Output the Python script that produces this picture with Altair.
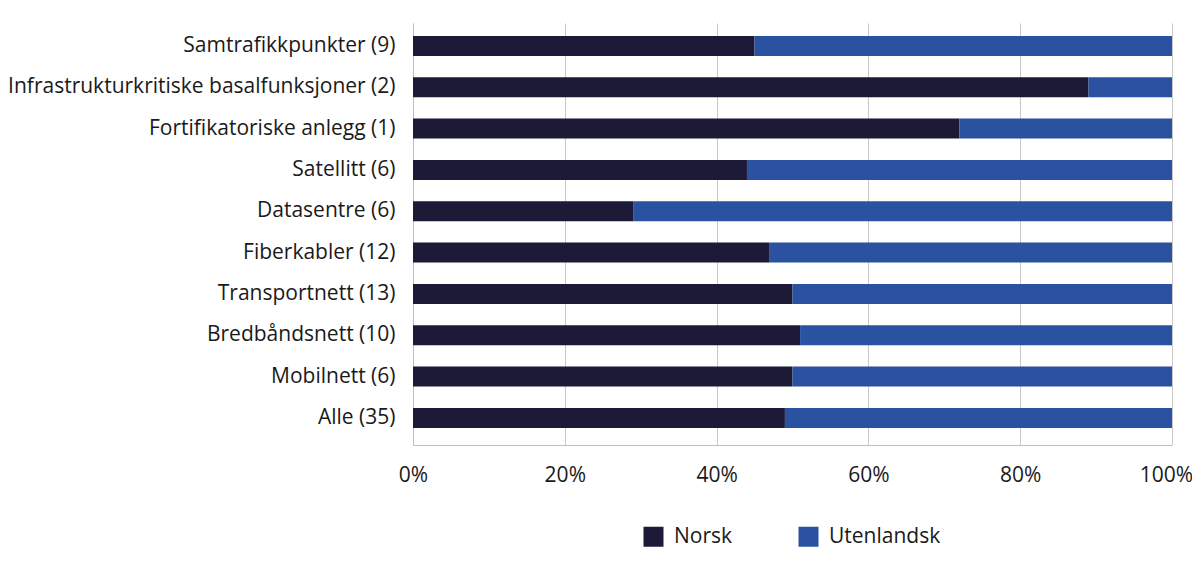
import altair as alt
import pandas as pd

categories = [
    "Samtrafikkpunkter (9)",
    "Infrastrukturkritiske basalfunksjoner (2)",
    "Fortifikatoriske anlegg (1)",
    "Satellitt (6)",
    "Datasentre (6)",
    "Fiberkabler (12)",
    "Transportnett (13)",
    "Bredbåndsnett (10)",
    "Mobilnett (6)",
    "Alle (35)",
]
norsk = [0.45, 0.89, 0.72, 0.44, 0.29, 0.47, 0.50, 0.51, 0.50, 0.49]
utenlandsk = [0.55, 0.11, 0.28, 0.56, 0.71, 0.53, 0.50, 0.49, 0.50, 0.51]
series = ["Norsk", "Utenlandsk"]
colors = ["#1c1a36", "#2a52a0"]

rows = []
for c, n, u in zip(categories, norsk, utenlandsk):
    rows.append({"kategori": c, "serie": "Norsk", "andel": n, "rekke": 0})
    rows.append({"kategori": c, "serie": "Utenlandsk", "andel": u, "rekke": 1})
df = pd.DataFrame(rows)

FONT = "Open Sans"
FS = 21

chart = (
    alt.Chart(df)
    .mark_bar()
    .encode(
        y=alt.Y(
            "kategori:N",
            sort=categories,
            title=None,
            scale=alt.Scale(paddingInner=0.516, paddingOuter=0.363, align=0.43),
            axis=alt.Axis(
                ticks=False,
                labelFontSize=FS,
                labelFont=FONT,
                labelColor="#1a1a1a",
                labelPadding=18,
                labelLimit=500,
                domainColor="#bfbfbf",
                grid=False,
            ),
        ),
        x=alt.X(
            "andel:Q",
            stack="zero",
            title=None,
            scale=alt.Scale(domain=[0, 1], nice=False),
            axis=alt.Axis(
                values=[0, 0.2, 0.4, 0.6, 0.8, 1.0],
                format=".0%",
                ticks=False,
                labelFontSize=FS,
                labelFont=FONT,
                labelColor="#1a1a1a",
                labelPadding=19,
                labelOffset=alt.condition("datum.value >= 1", alt.value(-6), alt.value(0)),
                domainColor="#bfbfbf",
                gridColor="#c8c8c8",
                labelFlush=False,
            ),
        ),
        color=alt.Color(
            "serie:N",
            scale=alt.Scale(domain=series, range=colors),
            legend=alt.Legend(
                title=None,
                orient="none",
                legendX=230,
                legendY=503,
                direction="horizontal",
                symbolType="square",
                symbolSize=400,
                symbolStrokeWidth=0,
                labelFontSize=FS,
                labelFont=FONT,
                labelColor="#1a1a1a",
                labelOffset=10,
                columnPadding=65,
            ),
        ),
        order=alt.Order("rekke:Q"),
    )
    .properties(
        width=759,
        height=422,
        autosize=alt.AutoSizeParams(type="none"),
        padding={"left": 405, "top": 15, "right": 20, "bottom": 110},
    )
    .configure_view(stroke=None)
)

chart.save("out.html", embed_options={"renderer": "svg", "actions": False})
